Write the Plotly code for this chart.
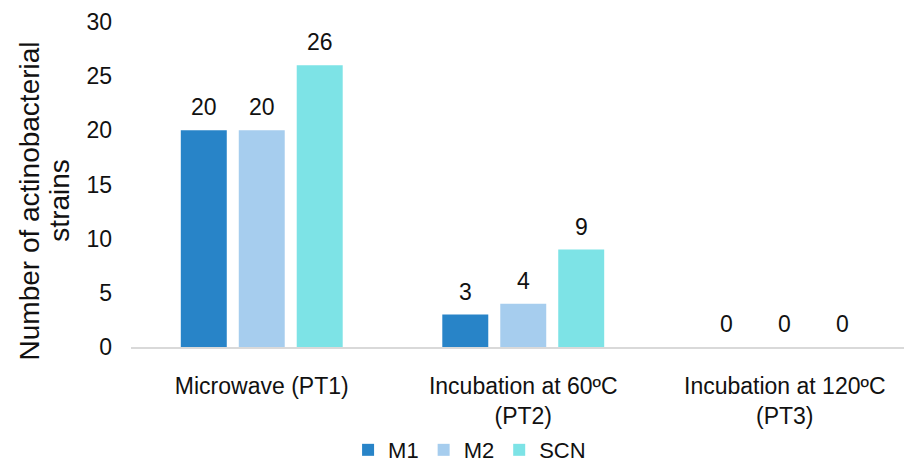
import plotly.graph_objects as go

categories = ["Microwave (PT1)", "Incubation at 60ºC<br>(PT2)", "Incubation at 120ºC<br>(PT3)"]
series_names = ["M1", "M2", "SCN"]
m1_values = [20, 3, 0]
m2_values = [20, 4, 0]
scn_values = [26, 9, 0]
y_ticks = [0, 5, 10, 15, 20, 25, 30]
y_title_lines = ["Number of actinobacterial", "strains"]

colors = ["#2884c8", "#a6cdee", "#7de3e6"]
font_family = "Liberation Sans, Arial, sans-serif"

fig = go.Figure()
all_values = [m1_values, m2_values, scn_values]
for name, vals, col in zip(series_names, all_values, colors):
    fig.add_trace(go.Bar(name=name, x=categories, y=vals, marker_color=col,
                         marker_line_width=0))

# value labels above each bar (offset by the bar slot within its group)
offsets = [-58, 0, 58]
for vals, dx in zip(all_values, offsets):
    for cat, v in zip(categories, vals):
        fig.add_annotation(x=cat, y=v, text=str(v), showarrow=False,
                           xshift=dx, yanchor="bottom", yshift=8,
                           font=dict(size=23, color="#111111", family=font_family))

# rotated two-line y-axis title
for line, xpos in zip(y_title_lines, [-0.131, -0.092]):
    fig.add_annotation(xref="paper", yref="paper", x=xpos, y=0.45, text=line,
                       textangle=-90, showarrow=False, xanchor="center", yanchor="middle",
                       font=dict(size=28, color="#111111", family=font_family))

fig.update_layout(
    width=904, height=462,
    margin=dict(l=131, r=0, t=22, b=115, autoexpand=False),
    paper_bgcolor="white", plot_bgcolor="white",
    barmode="group", bargap=0.335, bargroupgap=0.207,
    font=dict(family=font_family, size=23, color="#111111"),
    showlegend=True,
    legend=dict(orientation="h", x=0.438, xanchor="center", y=-0.317, yanchor="middle",
                font=dict(size=22), itemwidth=30, tracegroupgap=0),
)
fig.update_xaxes(range=[-0.5, 2.456], showline=True, linecolor="#d9d9d9", linewidth=1.5,
                 ticks="", tickfont=dict(size=23), showgrid=False, ticklabelstandoff=18,
                 automargin=False)
fig.update_yaxes(range=[0, 30], tickvals=y_ticks, showgrid=False, zeroline=False,
                 showline=False, ticks="", tickfont=dict(size=23), ticklabelstandoff=18,
                 automargin=False)

fig.write_html("out.html")
